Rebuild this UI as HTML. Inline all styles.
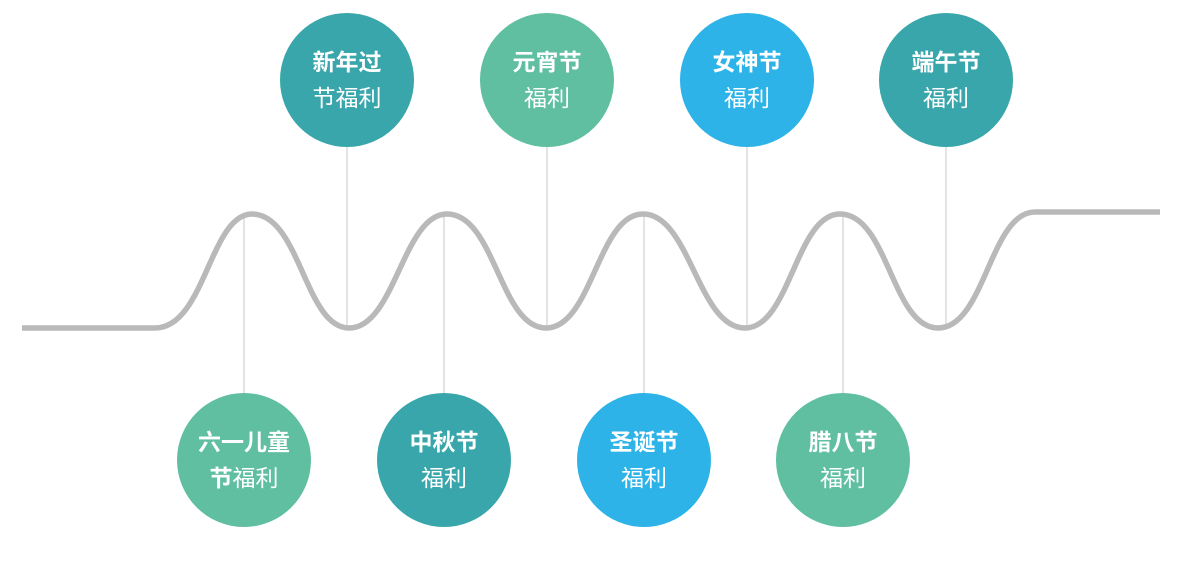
<!DOCTYPE html>
<html><head><meta charset="utf-8"><style>
html,body{margin:0;padding:0;background:#fff;}
body{width:1179px;height:569px;position:relative;overflow:hidden;font-family:"Liberation Sans","Noto Sans CJK SC",sans-serif;}
.c{position:absolute;width:134px;height:134px;border-radius:50%;color:#fff;text-align:center;box-sizing:border-box;padding-top:31px;font-size:23px;line-height:36px;}
.c b{font-weight:700;}
.t{background:#38a6ab}.g{background:#5fbfa0}.b{background:#2db3e8}
</style></head><body>
<svg width="1179" height="569" style="position:absolute;left:0;top:0">
<g stroke="#dcdcdc" stroke-width="1.5">
<line x1="347" y1="140" x2="347" y2="328"/>
<line x1="547" y1="140" x2="547" y2="328"/>
<line x1="747" y1="140" x2="747" y2="328"/>
<line x1="946" y1="140" x2="946" y2="328"/>
<line x1="244" y1="215" x2="244" y2="400"/>
<line x1="444" y1="215" x2="444" y2="400"/>
<line x1="644" y1="215" x2="644" y2="400"/>
<line x1="843" y1="215" x2="843" y2="400"/>
</g>
<path d="M22 328 L155 328 C205 328 210 214 252 214 C300 214 305 328 349 328 C395 328 403 214 447 214 C495 214 500 328 546 328 C592 328 598 214 643 214 C690 214 698 328 745 328 C790 328 796 214 840 214 C888 214 892 328 938 328 C985 328 990 212 1035 212 L1160 212" fill="none" stroke="#b9b9b9" stroke-width="5.5"/>
</svg>
<div class="c t" style="left:280px;top:13px"><b>新年过</b><br>节福利</div>
<div class="c g" style="left:480px;top:13px"><b>元宵节</b><br>福利</div>
<div class="c b" style="left:680px;top:13px"><b>女神节</b><br>福利</div>
<div class="c t" style="left:879px;top:13px"><b>端午节</b><br>福利</div>
<div class="c g" style="left:177px;top:393px"><b>六一儿童</b><br><b>节</b>福利</div>
<div class="c t" style="left:377px;top:393px"><b>中秋节</b><br>福利</div>
<div class="c b" style="left:577px;top:393px"><b>圣诞节</b><br>福利</div>
<div class="c g" style="left:776px;top:393px"><b>腊八节</b><br>福利</div>
</body></html>
